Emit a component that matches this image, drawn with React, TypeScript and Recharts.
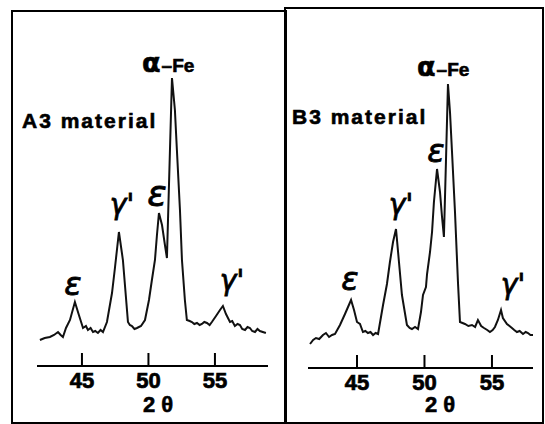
import { LineChart, Line, XAxis, YAxis } from 'recharts'

// 2θ ticks shared by both patterns
const thetaTicks = [45, 50, 55]

// A3 material pattern (2θ in degrees, intensity arbitrary units)
const a3Theta = [41.84, 42.2, 42.59, 42.9, 43.2, 43.4, 43.57, 43.8, 44.1, 44.47, 44.77, 45.08, 45.3, 45.45, 45.65, 45.83, 46.0, 46.2, 46.4, 46.58, 46.88, 47.26, 47.48, 47.78, 48.08, 48.46, 48.6, 48.76, 48.95, 49.14, 49.44, 49.74, 50.04, 50.26, 50.49, 50.64, 50.79, 51.02, 51.24, 51.39, 51.77, 51.99, 52.14, 52.37, 52.52, 52.74, 52.89, 53.1, 53.27, 53.45, 53.65, 53.85, 54.02, 54.2, 54.4, 54.6, 54.77, 55.08, 55.38, 55.6, 55.83, 56.13, 56.3, 56.5, 56.7, 56.88, 57.05, 57.26, 57.45, 57.63, 57.8, 58.01, 58.2, 58.38, 58.6, 58.83]
const a3Counts = [26, 28, 29, 31, 34, 31, 29, 38, 46, 64, 51, 38, 40, 36, 38, 34, 35, 33, 36, 34, 44, 73, 98, 134, 106, 44, 41, 40, 37, 38, 40, 46, 66, 86, 106, 131, 153, 141, 121, 108, 288, 256, 216, 156, 106, 66, 46, 45, 44, 42, 43, 41, 42, 44, 43, 41, 44, 50, 56, 60, 52, 44, 45, 40, 42, 41, 37, 36, 39, 38, 35, 34, 37, 35, 34, 33]

// B3 material pattern
const b3Theta = [41.52, 41.75, 41.96, 42.2, 42.48, 42.7, 42.93, 43.15, 43.37, 43.74, 44.11, 44.56, 44.78, 45.0, 45.22, 45.44, 45.62, 45.81, 46.0, 46.19, 46.38, 46.56, 46.93, 47.22, 47.44, 47.67, 47.89, 48.11, 48.33, 48.7, 48.9, 49.07, 49.3, 49.52, 49.74, 49.89, 50.11, 50.19, 50.41, 50.56, 50.7, 50.93, 51.15, 51.3, 51.44, 51.59, 51.74, 51.89, 52.04, 52.26, 52.48, 52.63, 53.0, 53.25, 53.52, 53.75, 53.96, 54.2, 54.41, 54.65, 54.85, 55.05, 55.22, 55.44, 55.67, 55.81, 56.11, 56.3, 56.48, 56.65, 56.85, 57.05, 57.3, 57.5, 57.67, 57.85, 58.04]
const b3Counts = [24, 28, 30, 29, 33, 35, 31, 33, 34, 43, 54, 68, 58, 46, 44, 36, 37, 35, 36, 33, 35, 34, 63, 84, 106, 126, 139, 106, 73, 43, 40, 39, 41, 39, 56, 73, 81, 94, 116, 136, 166, 199, 176, 151, 131, 206, 284, 256, 216, 156, 86, 46, 44, 42, 43, 41, 48, 42, 40, 38, 36, 38, 41, 48, 58, 50, 44, 42, 40, 38, 36, 37, 34, 36, 35, 33, 33]

const a3Data = a3Theta.map((t, i) => ({ t, v: a3Counts[i] }))
const b3Data = b3Theta.map((t, i) => ({ t, v: b3Counts[i] }))

const font = '"Liberation Sans", Arial, sans-serif'
const hand = '"DejaVu Sans", sans-serif'

const InwardTick = (props: any) => {
  const { x, y, payload } = props
  return (
    <g>
      <line x1={x} x2={x} y1={y - 13} y2={y} stroke="#000" strokeWidth={2} />
      <text x={x} y={y + 22} textAnchor="middle" fontSize={22} fontWeight="bold" fontFamily={font} fill="#000" stroke="#000" strokeWidth={0.7}>
        {payload.value}
      </text>
    </g>
  )
}

function Pattern({ data, domain, margin }: { data: any[]; domain: number[]; margin: any }) {
  return (
    <LineChart width={545} height={424} data={data} margin={margin} style={{ position: 'absolute', left: 0, top: 0 }}>
      <XAxis
        type="number"
        dataKey="t"
        domain={domain}
        ticks={thetaTicks}
        tickSize={0}
        tickMargin={0}
        height={50}
        axisLine={{ stroke: '#000', strokeWidth: 2 }}
        tick={<InwardTick />}
        interval={0}
      />
      <YAxis hide type="number" domain={[0, 316]} />
      <Line type="linear" dataKey="v" stroke="#111" strokeWidth={2} dot={false} isAnimationActive={false} />
    </LineChart>
  )
}

export default function App() {
  return (
    <div style={{ position: 'absolute', left: 0, top: 0, width: 545, height: 424, background: '#fff', overflow: 'hidden' }}>
      <div style={{ position: 'absolute', left: 11, top: 10, width: 272, height: 410, border: '2px solid #000' }} />
      <div style={{ position: 'absolute', left: 284, top: 7, width: 256, height: 413, border: '2px solid #000' }} />
      <Pattern data={a3Data} domain={[41.62, 58.99]} margin={{ top: 50, right: 277, left: 37, bottom: 8 }} />
      <Pattern data={b3Data} domain={[41.37, 58.04]} margin={{ top: 52, right: 12, left: 308, bottom: 6 }} />
      <svg width={545} height={424} style={{ position: 'absolute', left: 0, top: 0 }}>
        <g fontFamily={font} fontWeight="bold" fill="#000" stroke="#000" strokeWidth={0.6}>
          <text x={22} y={128} fontSize={21} letterSpacing={2}>A3 material</text>
          <text x={292} y={124} fontSize={21} letterSpacing={2}>B3 material</text>
          <text x={161} y={412} fontSize={22} letterSpacing={6} textAnchor="middle">2θ</text>
          <text x={443} y={412} fontSize={22} letterSpacing={6} textAnchor="middle">2θ</text>
          <text x={142} y={72}><tspan fontSize={27} fontFamily={hand}>α</tspan><tspan fontSize={19} dx={1}>–Fe</tspan></text>
          <text x={417} y={76}><tspan fontSize={27} fontFamily={hand}>α</tspan><tspan fontSize={19} dx={1}>–Fe</tspan></text>
        </g>
        <g fontFamily={hand} fontStyle="italic" fill="#000" stroke="#000" strokeWidth={0.8} textAnchor="middle">
          <text x={73} y={295} fontSize={32}>ε</text>
          <text x={122} y={214} fontSize={28}>γ'</text>
          <text x={157} y={206} fontSize={36}>ε</text>
          <text x={232} y={290} fontSize={28}>γ'</text>
          <text x={350} y={290} fontSize={32}>ε</text>
          <text x={401} y={214} fontSize={28}>γ'</text>
          <text x={436} y={162} fontSize={32}>ε</text>
          <text x={513} y={294} fontSize={28}>γ'</text>
        </g>
      </svg>
    </div>
  )
}
